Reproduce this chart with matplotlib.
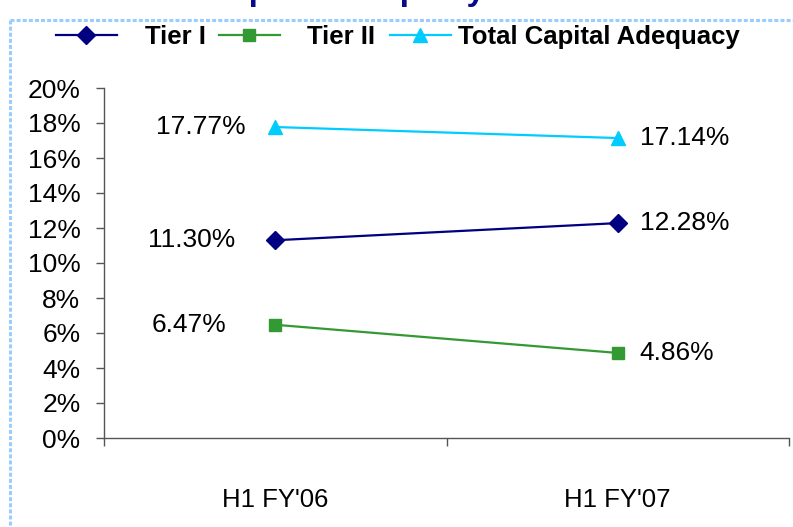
import matplotlib
matplotlib.use('Agg')
import matplotlib.pyplot as plt
from matplotlib import font_manager
from matplotlib.lines import Line2D

# data
categories = ["H1 FY'06", "H1 FY'07"]
tier1 = [11.30, 12.28]
tier2 = [6.47, 4.86]
total_car = [17.77, 17.14]
series_names = ['Tier I', 'Tier II', 'Total Capital Adequacy']
y_ticks = [0, 2, 4, 6, 8, 10, 12, 14, 16, 18, 20]

plt.rcParams['font.family'] = ['Liberation Sans', 'DejaVu Sans']

# narrow font for the x labels if there is one
installed = {f.name for f in font_manager.fontManager.ttflist}
if 'Liberation Sans Narrow' in installed:
    xfont, xsize = 'Liberation Sans Narrow', 23
else:
    xfont, xsize = 'Liberation Sans', 18.5

fig = plt.figure(figsize=(7.93, 5.27), dpi=100)
ax = fig.add_axes([104/793, 1-438/527, (789-104)/793, 350/527])

x = range(len(categories))
colors = ['#000080', '#339933', '#00ccff']
markers = ['D', 's', '^']
msizes = [9.5, 9, 10]
all_series = [tier1, tier2, total_car]
lines = []
for vals, name, c, m, ms in zip(all_series, series_names, colors, markers, msizes):
    ln, = ax.plot(x, vals, color=c, marker=m, markersize=ms, lw=1.6, label=name,
                  markeredgecolor=c, clip_on=False)
    lines.append(ln)

# value labels, left point labels sit to the left, right ones to the right
left_off = [-40, -49, -30]
for vals, off in zip(all_series, left_off):
    ax.annotate('%.2f%%' % vals[0], (0, vals[0]), xytext=(off, 0),
                textcoords='offset pixels', ha='right', va='center', fontsize=19)
    ax.annotate('%.2f%%' % vals[1], (1, vals[1]), xytext=(22, 0),
                textcoords='offset pixels', ha='left', va='center', fontsize=19)

ax.set_xlim(-0.5, 1.5)
ax.set_ylim(0, 20)
ax.set_yticks(y_ticks)
ax.set_yticklabels(['%d%%' % v for v in y_ticks], fontsize=19)
ax.set_xticks(list(x))
ax.set_xticklabels(categories, fontsize=xsize, family=xfont)
ax.set_xticks([-0.5, 0.5, 1.5], minor=True)
ax.tick_params(axis='x', which='major', length=0, pad=36)
ax.tick_params(axis='x', which='minor', length=6, width=1, color='#555555')
ax.tick_params(axis='y', length=6, width=1, color='#555555', pad=11)

for s in ['top', 'right']:
    ax.spines[s].set_visible(False)
for s in ['left', 'bottom']:
    ax.spines[s].set_color('#555555')
    ax.spines[s].set_linewidth(1)

# legend entries placed one by one like the excel layout
leg_x = [56, 219, 390]
leg_pad = [1.09, 1.05, 0.27]
for ln, lx, p in zip(lines, leg_x, leg_pad):
    leg = fig.legend([ln], [ln.get_label()], loc='center left',
                     bbox_to_anchor=(lx/793, 1-37/527), frameon=False,
                     borderpad=0, borderaxespad=0, handlelength=2.37,
                     handletextpad=p, prop={'weight': 'bold', 'size': 18.5})

# cut off title at the very top
fig.text(206/793, 1.0, 'Capital Adequacy Ratio', ha='left', va='baseline',
         fontsize=24, fontweight='bold', color='#0a0a8a')

# dotted frame
yb = 1-20/527
xb = 10/793
fig.add_artist(Line2D([xb, 1], [yb, yb], transform=fig.transFigure,
                      color='#99ccff', lw=2.2, dashes=(1.3, 0.7)))
fig.add_artist(Line2D([xb, xb], [yb, 0], transform=fig.transFigure,
                      color='#99ccff', lw=2.2, dashes=(1.3, 0.7)))

fig.savefig('out.png', dpi=100)
